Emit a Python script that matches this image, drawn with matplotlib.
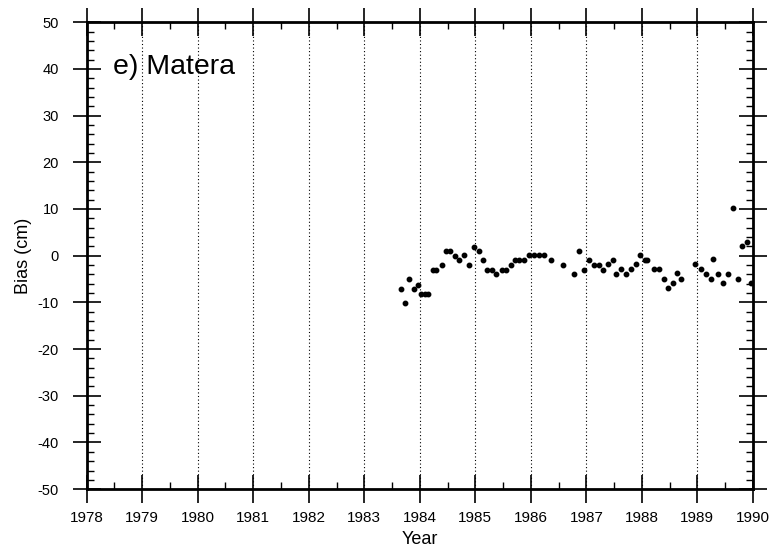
import numpy as np
import matplotlib
matplotlib.use("Agg")
import matplotlib.pyplot as plt
from matplotlib.ticker import MultipleLocator

plt.rcParams['font.family'] = ['Liberation Sans', 'DejaVu Sans']

# monthly bias values
years = [1983.67, 1983.73, 1983.81, 1983.90, 1983.97,
         1984.03, 1984.09, 1984.15, 1984.23, 1984.30,
         1984.40, 1984.48, 1984.54, 1984.63, 1984.71,
         1984.80, 1984.89, 1984.97, 1985.06, 1985.13,
         1985.21, 1985.30, 1985.38, 1985.48, 1985.56,
         1985.65, 1985.71, 1985.79, 1985.88, 1985.97,
         1986.06, 1986.15, 1986.23, 1986.37, 1986.58,
         1986.78, 1986.86, 1986.96, 1987.04, 1987.13,
         1987.22, 1987.30, 1987.39, 1987.48, 1987.54,
         1987.63, 1987.72, 1987.81, 1987.89, 1987.97,
         1988.05, 1988.10, 1988.22, 1988.30, 1988.39,
         1988.47, 1988.56, 1988.64, 1988.71, 1988.96,
         1989.06, 1989.15, 1989.24, 1989.28, 1989.37,
         1989.47, 1989.56, 1989.64, 1989.74, 1989.81,
         1989.90, 1989.97]
bias = [-7.1, -10.2, -5.1, -7.2, -6.2,
        -8.2, -8.2, -8.2, -3.1, -3.1,
        -2.0, 1.1, 1.1, 0.0, -1.0,
        0.1, -2.0, 1.8, 1.1, -0.9,
        -3.0, -3.0, -4.0, -3.1, -3.1,
        -2.0, -1.0, -1.0, -1.0, 0.2,
        0.2, 0.2, 0.2, -1.0, -2.0,
        -4.0, 1.1, -3.0, -0.9, -1.9,
        -1.9, -3.0, -1.8, -0.9, -3.9,
        -2.9, -3.9, -2.9, -1.8, 0.2,
        -0.9, -0.9, -2.9, -2.9, -5.0,
        -7.0, -5.9, -3.8, -5.0, -1.7,
        -2.9, -3.9, -5.0, -0.8, -3.9,
        -5.9, -3.9, 10.2, -4.9, 2.0,
        2.9, -5.9]

year_ticks = list(range(1978, 1991))
bias_ticks = list(range(-50, 51, 10))

fig = plt.figure(figsize=(7.81, 5.54), dpi=100)
ax = fig.add_axes([0.111, 0.117, 0.853, 0.843])

for yr in year_ticks[1:-1]:
    ax.axvline(yr, color='black', lw=0.8, ls=(0, (1, 2.2)), zorder=1)

ax.plot(years, bias, 'o', color='black', ms=3.2, zorder=3)

ax.set_xlim(1978, 1990)
ax.set_ylim(-50, 50)
ax.set_xticks(year_ticks)
ax.set_xticklabels([str(y) for y in year_ticks], fontsize=11)
ax.set_yticks(bias_ticks)
ax.set_yticklabels([str(b) for b in bias_ticks], fontsize=10.5)
ax.xaxis.set_minor_locator(MultipleLocator(0.5))
ax.yaxis.set_minor_locator(MultipleLocator(2))

ax.tick_params(which='major', direction='inout', length=20, width=1.2,
               top=True, right=True)
ax.tick_params(which='minor', direction='in', length=5, width=1,
               top=True, right=True)
ax.tick_params(axis='x', which='major', pad=6)
ax.tick_params(axis='y', which='major', pad=10)

for s in ax.spines.values():
    s.set_linewidth(2)

ax.set_xlabel('Year', fontsize=13, labelpad=4)
ax.set_ylabel('Bias (cm)', fontsize=13, labelpad=4)

ax.text(1978.47, 39.0, 'e) Matera', fontsize=20.5)

fig.savefig('out.png', dpi=100)
